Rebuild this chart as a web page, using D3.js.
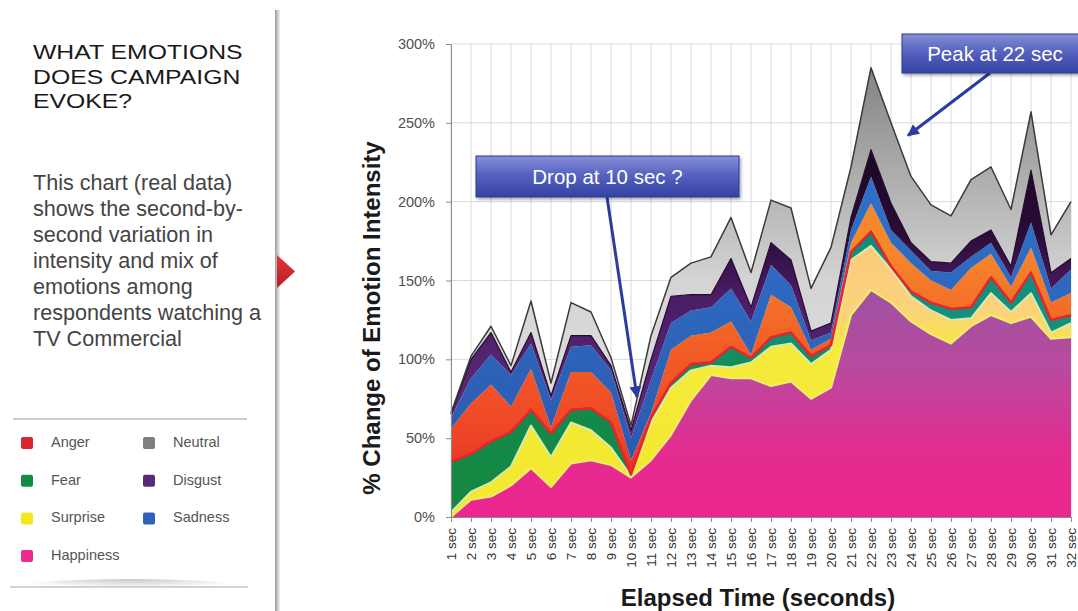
<!DOCTYPE html>
<html>
<head>
<meta charset="utf-8">
<script src="https://cdn.jsdelivr.net/npm/d3@7"></script>
<style>
  body { margin: 0; background: #fff; }
  svg { display: block; font-family: "Liberation Sans", Arial, Helvetica, sans-serif; }
</style>
</head>
<body>
<svg id="chart" width="1078" height="611"></svg>
<script>
// ---- data: % change of emotion intensity per elapsed second ----
const seconds = [1,2,3,4,5,6,7,8,9,10,11,12,13,14,15,16,17,18,19,20,21,22,23,24,25,26,27,28,29,30,31,32];
const secLabels = ["1 sec","2 sec","3 sec","4 sec","5 sec","6 sec","7 sec","8 sec","9 sec","10 sec",
  "11 sec","12 sec","13 sec","14 sec","15 sec","16 sec","17 sec","18 sec","19 sec","20 sec",
  "21 sec","22 sec","23 sec","24 sec","25 sec","26 sec","27 sec","28 sec","29 sec","30 sec","31 sec","32 sec"];
const yTicks = [0, 50, 100, 150, 200, 250, 300];

const happiness = [0,11,13,20,31,19,34,36,33,25,36,52,74,90,88,88,83,86,75,82,128,144,136,124,116,110,121,128,123,127,113,114];
const surprise  = [3,5,9,12,27,19,26,19,11,1,24,30,19,6,7,10,25,24,22,24,35,28,21,16,15,15,5,14,7,15,4,9];
const fear      = [32,24,26,22,10,15,8,14,16,1,3,3,4,2,13,3,6,7,5,3,5,9,2,3,5,7,7,10,6,13,8,5];
const anger     = [21,32,36,16,26,4,24,23,19,9,3,21,18,19,16,2,27,16,4,4,6,18,15,18,14,12,25,15,10,16,11,14];
const sadness   = [7,16,19,20,16,17,16,17,14,14,21,17,16,16,21,21,19,14,6,4,8,17,8,8,6,11,7,7,6,16,9,15];
const disgust   = [2,12,14,2,7,3,7,6,3,5,13,17,10,8,19,9,14,16,6,6,8,17,17,5,6,6,10,8,7,33,10,7];
const neutral   = [1,2,4,4,20,8,21,15,5,3,15,12,20,24,26,22,27,33,27,48,32,52,51,42,36,30,39,40,36,37,24,36];

const keys = ["Happiness","Surprise","Fear","Anger","Sadness","Disgust","Neutral"];
const seriesByKey = { Happiness: happiness, Surprise: surprise, Fear: fear, Anger: anger,
                      Sadness: sadness, Disgust: disgust, Neutral: neutral };

// legend entries (two columns)
const legendCol1 = ["Anger","Fear","Surprise","Happiness"];
const legendCol2 = ["Neutral","Disgust","Sadness"];
const legendColors = { Anger:"#d8262e", Fear:"#138a45", Surprise:"#f2e81e", Happiness:"#ee2a91",
                       Neutral:"#7f7f7f", Disgust:"#5a2a78", Sadness:"#2e62bc" };

// vertical colour ramps for each layer (value -> colour)
const ramps = {
  Happiness: [[0,"#ec268f"],[40,"#e42b90"],[95,"#b94a9e"],[145,"#9d52a3"]],
  Surprise:  [[0,"#f3e82a"],[105,"#f6ea3c"],[132,"#fbd27c"],[175,"#fcca7a"]],
  Fear:      [[0,"#15883f"],[85,"#138a4e"],[125,"#14907f"],[190,"#11897c"]],
  Anger:     [[20,"#e5282b"],[50,"#ef4427"],[110,"#f25f26"],[170,"#f6872b"]],
  Sadness:   [[50,"#2c5cb2"],[220,"#2f72c8"]],
  Disgust:   [[60,"#5c2b7c"],[140,"#4a1d66"],[180,"#2a0c38"],[230,"#1c0724"]],
  Neutral:   [[60,"#e0e0e0"],[150,"#d4d4d4"],[220,"#ababab"],[285,"#838383"]]
};
const edges = {
  Happiness: ["#f1ee6e", 2],
  Surprise:  ["#d3ecb0", 2],
  Fear:      ["#e6252a", 2.5],
  Disgust:   ["#24092c", 1.2],
  Neutral:   ["#3a3a3a", 1.5]
};

const svg = d3.select("#chart");
const defs = svg.append("defs");
svg.append("rect").attr("width", 1078).attr("height", 611).attr("fill", "#fff");

const x = d3.scaleLinear().domain([1, 32]).range([451, 1071]);
const y = d3.scaleLinear().domain([0, 300]).range([517, 44]);

// gradients
keys.forEach(k => {
  const r = ramps[k];
  const v0 = r[0][0], v1 = r[r.length - 1][0];
  const lg = defs.append("linearGradient").attr("id", "grad-" + k)
    .attr("gradientUnits", "userSpaceOnUse")
    .attr("x1", 0).attr("x2", 0).attr("y1", y(v0)).attr("y2", y(v1));
  r.forEach(([v, c]) => lg.append("stop").attr("offset", (v - v0) / (v1 - v0)).attr("stop-color", c));
});

// gridlines
svg.append("g").selectAll("line.vg").data(seconds).join("line").attr("class", "vg")
  .attr("x1", d => x(d)).attr("x2", d => x(d)).attr("y1", y(300)).attr("y2", y(0))
  .attr("stroke", "#d9d9d9").attr("stroke-width", 1);
svg.append("g").selectAll("line.hg").data(yTicks).join("line").attr("class", "hg")
  .attr("x1", x(1)).attr("x2", x(32)).attr("y1", d => y(d)).attr("y2", d => y(d))
  .attr("stroke", "#d9d9d9").attr("stroke-width", 1);

// stacked areas
const rows = seconds.map((s, i) => {
  const o = { sec: s };
  keys.forEach(k => o[k] = seriesByKey[k][i]);
  return o;
});
const stacked = d3.stack().keys(keys)(rows);
const area = d3.area().x(d => x(d.data.sec)).y0(d => y(d[0])).y1(d => y(d[1]));
const edgeLine = d3.line().x(d => x(d.data.sec)).y(d => y(d[1]));

svg.append("g").selectAll("path").data(stacked).join("path")
  .attr("d", area).attr("fill", d => `url(#grad-${d.key})`);

svg.append("g").selectAll("path").data(stacked.filter(s => edges[s.key])).join("path")
  .attr("d", edgeLine).attr("fill", "none")
  .attr("stroke", d => edges[d.key][0]).attr("stroke-width", d => edges[d.key][1])
  .attr("stroke-linejoin", "round");

// axes
const yAxis = d3.axisLeft(y).tickValues(yTicks).tickFormat(d => d + "%")
  .tickSize(5).tickSizeOuter(0).tickPadding(11);
const gy = svg.append("g").attr("transform", `translate(${x(1)},0)`).call(yAxis);
gy.select(".domain").attr("stroke", "#8c8c8c");
gy.selectAll(".tick line").attr("stroke", "#8c8c8c");
gy.selectAll(".tick text").attr("fill", "#4f4f4f").style("font-size", "14.5px");

const xAxis = d3.axisBottom(x).tickValues(seconds).tickFormat((d, i) => secLabels[i])
  .tickSize(5).tickSizeOuter(0);
const gx = svg.append("g").attr("transform", `translate(0,${y(0)})`).call(xAxis);
gx.select(".domain").attr("stroke", "#8c8c8c");
gx.selectAll(".tick line").attr("stroke", "#8c8c8c");
gx.selectAll(".tick text")
  .attr("transform", "rotate(-90)").attr("x", -11).attr("y", 0).attr("dy", "0.35em")
  .style("text-anchor", "end").style("font-size", "13.5px").attr("fill", "#333");

// axis titles
svg.append("text").attr("transform", "translate(380,318) rotate(-90)")
  .attr("text-anchor", "middle").style("font-size", "24px").style("font-weight", "bold")
  .attr("fill", "#1a1a1a").text("% Change of Emotion Intensity");
svg.append("text").attr("x", 758).attr("y", 606)
  .attr("text-anchor", "middle").style("font-size", "24px").style("font-weight", "bold")
  .attr("fill", "#1a1a1a").text("Elapsed Time (seconds)");

// callouts
const boxGrad = defs.append("linearGradient").attr("id", "boxGrad").attr("x1", 0).attr("x2", 0).attr("y1", 0).attr("y2", 1);
boxGrad.append("stop").attr("offset", 0).attr("stop-color", "#8790d8");
boxGrad.append("stop").attr("offset", 0.45).attr("stop-color", "#5763bf");
boxGrad.append("stop").attr("offset", 1).attr("stop-color", "#3442a3");
const shadow = defs.append("filter").attr("id", "shadow").attr("x", "-10%").attr("y", "-20%").attr("width", "130%").attr("height", "160%");
shadow.append("feDropShadow").attr("dx", 1.5).attr("dy", 2).attr("stdDeviation", 1.5).attr("flood-color", "#000").attr("flood-opacity", 0.35);
defs.append("marker").attr("id", "arrow").attr("viewBox", "0 0 10 10").attr("refX", 9).attr("refY", 5)
  .attr("markerWidth", 4).attr("markerHeight", 4).attr("orient", "auto-start-reverse")
  .append("path").attr("d", "M0,0 L10,5 L0,10 z").attr("fill", "#2c3c9e");

const callouts = [
  { text: "Drop at 10 sec ?", bx: 476, by: 156, bw: 263, bh: 41, from: [607, 197], to: [x(10) + 6, y(76)] },
  { text: "Peak at 22 sec",   bx: 902, by: 34,  bw: 186, bh: 39, from: [990, 73],  to: [x(23.85), y(242)] }
];
const cg = svg.append("g");
callouts.forEach(c => {
  cg.append("line").attr("x1", c.from[0]).attr("y1", c.from[1]).attr("x2", c.to[0]).attr("y2", c.to[1])
    .attr("stroke", "#2c3c9e").attr("stroke-width", 3).attr("marker-end", "url(#arrow)");
  cg.append("rect").attr("x", c.bx).attr("y", c.by).attr("width", c.bw).attr("height", c.bh)
    .attr("fill", "url(#boxGrad)").attr("stroke", "#2d3a94").attr("stroke-width", 1).attr("filter", "url(#shadow)");
  cg.append("text").attr("x", c.bx + c.bw / 2).attr("y", c.by + c.bh / 2 + 7)
    .attr("text-anchor", "middle").style("font-size", "20.5px").attr("fill", "#fff").text(c.text);
});

// ---- left panel ----
const panel = svg.append("g");
const sepGrad = defs.append("linearGradient").attr("id", "sepGrad").attr("x1", 0).attr("x2", 1);
sepGrad.append("stop").attr("offset", 0).attr("stop-color", "#9a9a9a");
sepGrad.append("stop").attr("offset", 0.5).attr("stop-color", "#c8c8c8");
sepGrad.append("stop").attr("offset", 1).attr("stop-color", "#f2f2f2");
panel.append("rect").attr("x", 275).attr("y", 10).attr("width", 5).attr("height", 601).attr("fill", "url(#sepGrad)");

const triGrad = defs.append("linearGradient").attr("id", "triGrad").attr("x1", 0).attr("x2", 0).attr("y1", 0).attr("y2", 1);
triGrad.append("stop").attr("offset", 0).attr("stop-color", "#e2363d");
triGrad.append("stop").attr("offset", 1).attr("stop-color", "#b81d25");
panel.append("path").attr("d", "M277,255 L295,271.5 L277,288 Z").attr("fill", "url(#triGrad)");

// heading: wide glyphs on a tight line pitch
const titleLines = ["WHAT EMOTIONS", "DOES CAMPAIGN", "EVOKE?"];
panel.append("g").attr("transform", "translate(33,0) scale(1.18,1)")
  .selectAll("text").data(titleLines).join("text")
  .attr("x", 0).attr("y", (d, i) => 59.5 + i * 24.5)
  .style("font-size", "21px").attr("fill", "#1a1a1a").text(d => d);

const bodyLines = ["This chart (real data)", "shows the second-by-", "second variation in",
  "intensity and mix of", "emotions among", "respondents watching a", "TV Commercial"];
panel.append("g").selectAll("text").data(bodyLines).join("text")
  .attr("x", 33).attr("y", (d, i) => 190 + i * 26)
  .style("font-size", "21.6px").attr("fill", "#444").text(d => d);

// legend
panel.append("line").attr("x1", 13).attr("x2", 247).attr("y1", 419).attr("y2", 419).attr("stroke", "#9a9a9a").attr("stroke-width", 1.2);
const legShadow = defs.append("radialGradient").attr("id", "legShadow").attr("cx", 0.5).attr("cy", 0).attr("r", 0.5);
legShadow.append("stop").attr("offset", 0).attr("stop-color", "#000").attr("stop-opacity", 0.22);
legShadow.append("stop").attr("offset", 1).attr("stop-color", "#000").attr("stop-opacity", 0);
panel.append("ellipse").attr("cx", 130).attr("cy", 588).attr("rx", 120).attr("ry", 9).attr("fill", "url(#legShadow)");
panel.append("line").attr("x1", 10).attr("x2", 248).attr("y1", 587).attr("y2", 587).attr("stroke", "#a8a8a8").attr("stroke-width", 1.2);

const legendItems = legendCol1.map((k, i) => ({ k, sx: 21, tx: 51, cy: 443 + i * 37.7 }))
  .concat(legendCol2.map((k, i) => ({ k, sx: 143, tx: 173, cy: 443 + i * 37.7 })));
const li = panel.append("g").selectAll("g").data(legendItems).join("g");
li.append("rect").attr("x", d => d.sx).attr("y", d => d.cy - 6).attr("width", 12).attr("height", 12)
  .attr("rx", 2).attr("fill", d => legendColors[d.k]);
li.append("text").attr("x", d => d.tx).attr("y", d => d.cy + 4)
  .style("font-size", "14.5px").attr("fill", "#555").text(d => d.k);
</script>
</body>
</html>
